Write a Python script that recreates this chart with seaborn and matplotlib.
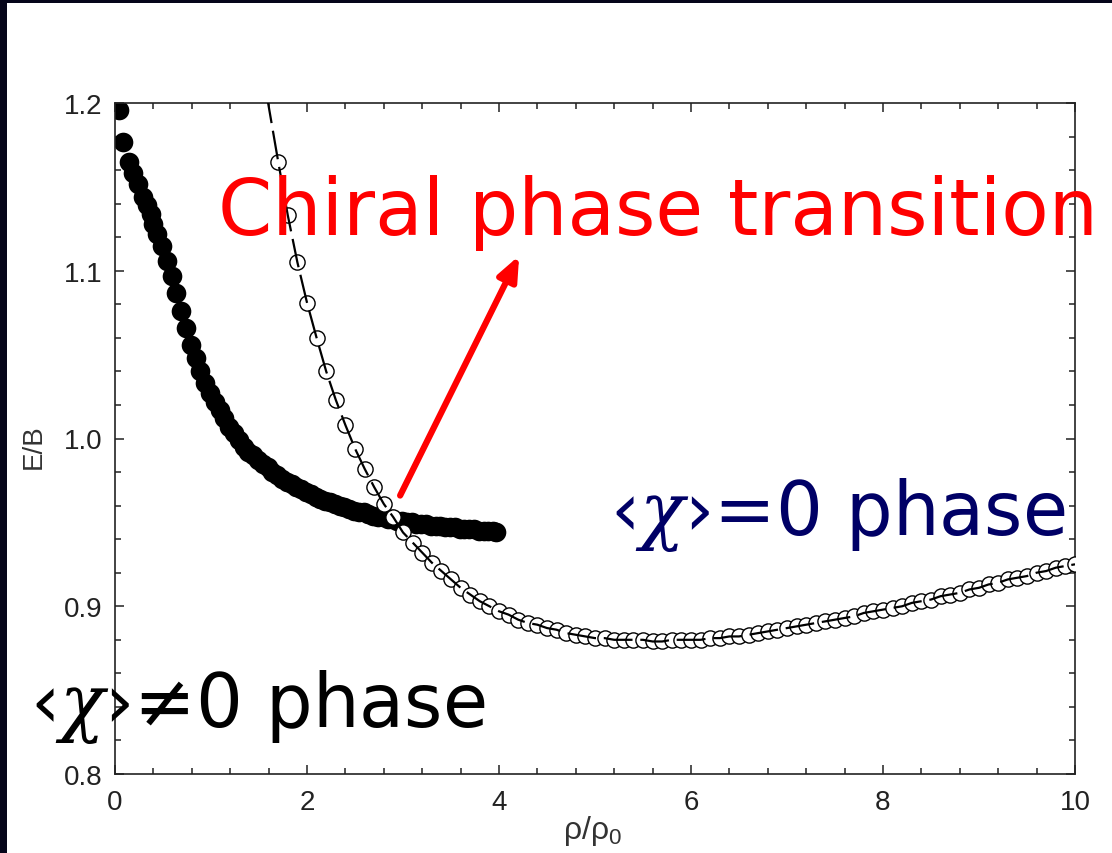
import numpy as np
import pandas as pd
import seaborn as sns
import matplotlib
matplotlib.use("Agg")
import matplotlib.pyplot as plt
from matplotlib.ticker import MultipleLocator, FormatStrFormatter
from matplotlib.patches import Rectangle

# ---------------- data ----------------
# chirally broken phase  <chi> != 0  (filled circles)
broken_x = [0.04, 0.08, 0.15, 0.19, 0.24, 0.29, 0.33, 0.37, 0.40, 0.44, 0.49, 0.54,
            0.59, 0.64, 0.69, 0.74, 0.79, 0.84, 0.89, 0.94, 0.99, 1.04, 1.09, 1.14,
            1.19, 1.24, 1.29, 1.34, 1.39, 1.44, 1.49, 1.54, 1.59, 1.64, 1.69, 1.74,
            1.79, 1.84, 1.89, 1.94, 1.99, 2.04, 2.09, 2.14, 2.19, 2.24, 2.29, 2.34,
            2.39, 2.44, 2.49, 2.54, 2.59, 2.64, 2.69, 2.74, 2.79, 2.84, 2.89, 2.94,
            2.99, 3.04, 3.09, 3.14, 3.19, 3.24, 3.29, 3.34, 3.39, 3.44, 3.49, 3.54,
            3.59, 3.64, 3.69, 3.74, 3.79, 3.84, 3.89, 3.94, 3.97]
broken_y = [1.196, 1.177, 1.165, 1.158, 1.152, 1.144, 1.139, 1.134, 1.128, 1.122, 1.115, 1.106,
            1.097, 1.087, 1.076, 1.066, 1.056, 1.048, 1.040, 1.033, 1.027, 1.022, 1.017, 1.012,
            1.007, 1.003, 0.999, 0.995, 0.992, 0.990, 0.987, 0.985, 0.983, 0.980, 0.978, 0.976,
            0.974, 0.973, 0.971, 0.970, 0.968, 0.967, 0.965, 0.964, 0.963, 0.962, 0.961, 0.960,
            0.959, 0.958, 0.957, 0.956, 0.956, 0.955, 0.954, 0.953, 0.953, 0.952, 0.952, 0.951,
            0.951, 0.950, 0.950, 0.949, 0.949, 0.949, 0.948, 0.948, 0.948, 0.947, 0.947, 0.947,
            0.946, 0.946, 0.946, 0.946, 0.945, 0.945, 0.945, 0.945, 0.944]

# chirally restored phase  <chi> = 0  (open circles + dashed curve)
restored_x = [1.7, 1.8, 1.9, 2.0, 2.1, 2.2, 2.3, 2.4, 2.5, 2.6, 2.7, 2.8, 2.9, 3.0,
              3.1, 3.2, 3.3, 3.4, 3.5, 3.6, 3.7, 3.8, 3.9, 4.0, 4.1, 4.2, 4.3, 4.4,
              4.5, 4.6, 4.7, 4.8, 4.9, 5.0, 5.1, 5.2, 5.3, 5.4, 5.5, 5.6, 5.7, 5.8,
              5.9, 6.0, 6.1, 6.2, 6.3, 6.4, 6.5, 6.6, 6.7, 6.8, 6.9, 7.0, 7.1, 7.2,
              7.3, 7.4, 7.5, 7.6, 7.7, 7.8, 7.9, 8.0, 8.1, 8.2, 8.3, 8.4, 8.5, 8.6,
              8.7, 8.8, 8.9, 9.0, 9.1, 9.2, 9.3, 9.4, 9.5, 9.6, 9.7, 9.8, 9.9, 10.0]
restored_y = [1.165, 1.133, 1.105, 1.081, 1.060, 1.040, 1.023, 1.008, 0.994, 0.982, 0.971, 0.961,
              0.953, 0.944, 0.938, 0.932, 0.926, 0.921, 0.916, 0.911, 0.907, 0.903, 0.900, 0.897,
              0.895, 0.892, 0.890, 0.889, 0.887, 0.886, 0.884, 0.883, 0.882, 0.881, 0.881, 0.880,
              0.880, 0.880, 0.880, 0.879, 0.879, 0.880, 0.880, 0.880, 0.880, 0.881, 0.881, 0.882,
              0.882, 0.883, 0.884, 0.885, 0.886, 0.887, 0.888, 0.889, 0.890, 0.891, 0.892, 0.893,
              0.894, 0.896, 0.897, 0.898, 0.899, 0.900, 0.902, 0.903, 0.904, 0.906, 0.907, 0.908,
              0.910, 0.911, 0.913, 0.914, 0.916, 0.917, 0.918, 0.920, 0.921, 0.923, 0.924, 0.925]
# curve continues above the first open circle up to the top of the frame
curve_start_x = [1.58]
curve_start_y = [1.205]

x_ticks = [0, 2, 4, 6, 8, 10]
y_ticks = [0.8, 0.9, 1.0, 1.1, 1.2]

label_x = "ρ/ρ$_0$"
label_y = "E/B"
title_red = "Chiral phase transition"
text_restored = "‹$\\chi$›=0 phase"
text_broken = "‹$\\chi$›≠0 phase"

# ---------------- style ----------------
sns.set_theme(style="ticks")
plt.rcParams["font.family"] = ["Liberation Sans", "DejaVu Sans"]
plt.rcParams["mathtext.fontset"] = "custom"
plt.rcParams["mathtext.rm"] = "Liberation Sans"
plt.rcParams["mathtext.it"] = "DejaVu Serif:italic"
plt.rcParams["mathtext.bf"] = "Liberation Sans:bold"

fig = plt.figure(figsize=(11.12, 8.54), dpi=100)
fig.patch.set_facecolor("#05051a")
fig.patches.append(Rectangle((7 / 1112, 0), 1, 1 - 4 / 854, transform=fig.transFigure,
                             facecolor="white", edgecolor="none", zorder=-10))

ax = fig.add_axes([115 / 1112, 1 - 775 / 854, 960 / 1112, 671 / 854])
ax.set_facecolor("white")
ax.set_zorder(1)

df_b = pd.DataFrame({"x": broken_x, "y": broken_y})
df_r = pd.DataFrame({"x": restored_x, "y": restored_y})
df_c = pd.DataFrame({"x": curve_start_x + restored_x, "y": curve_start_y + restored_y})

sns.scatterplot(data=df_b, x="x", y="y", ax=ax, color="black", s=200,
                linewidth=0, marker="o", zorder=2)
sns.scatterplot(data=df_r, x="x", y="y", ax=ax, facecolor="white", edgecolor="black",
                s=120, linewidth=1.0, marker="o", zorder=3)
sns.lineplot(data=df_c, x="x", y="y", ax=ax, color="black", lw=1.6, zorder=4,
             sort=False, estimator=None)
ax.lines[-1].set_dashes((13, 3.5))

ax.set_xlim(0, 10)
ax.set_ylim(0.8, 1.2)
ax.set_xticks(x_ticks)
ax.set_yticks(y_ticks)
ax.yaxis.set_major_formatter(FormatStrFormatter("%.1f"))
ax.xaxis.set_minor_locator(MultipleLocator(0.4))
ax.yaxis.set_minor_locator(MultipleLocator(0.02))
ax.tick_params(which="both", direction="in", top=True, right=True, color="#222222",
               width=1.1)
ax.tick_params(which="major", length=6.5, labelsize=20, labelcolor="#222222")
ax.tick_params(which="minor", length=4)
ax.tick_params(axis="x", which="major", pad=11)
ax.tick_params(axis="y", which="major", pad=9)
for sp in ax.spines.values():
    sp.set_linewidth(1.2)
    sp.set_color("#222222")
    sp.set_visible(True)

ax.set_xlabel(label_x, fontsize=23, color="#333333")
ax.set_ylabel(label_y, fontsize=20, color="#333333")
ax.xaxis.set_label_coords(0.497, -0.058)
ax.yaxis.set_label_coords(-0.071, 0.49)

# arrow marking the crossing point
ax.annotate("", xy=(4.21, 1.109), xytext=(2.97, 0.966),
            arrowprops=dict(arrowstyle="-|>,head_length=1.2,head_width=0.5",
                            color="#ff0000", lw=4.5, shrinkA=0, shrinkB=0),
            annotation_clip=False, zorder=6)

fig.text(218 / 1112, 1 - 235 / 854, title_red, color="#ff0000", fontsize=56,
         family=["DejaVu Sans"], va="baseline", ha="left", zorder=5)
fig.text(610 / 1112, 1 - 535 / 854, text_restored, color="#000066", fontsize=53,
         family=["DejaVu Sans"], va="baseline", ha="left", zorder=5)
fig.text(30 / 1112, 1 - 727 / 854, text_broken, color="black", fontsize=53,
         family=["DejaVu Sans"], va="baseline", ha="left", zorder=5)

fig.savefig("out.png", dpi=100, facecolor=fig.get_facecolor())
